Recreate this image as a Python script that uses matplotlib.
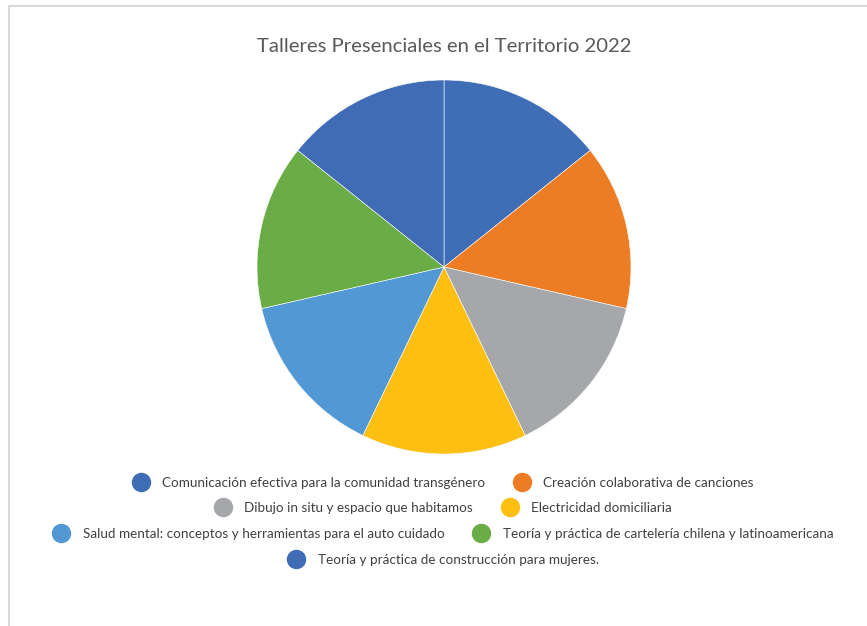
import matplotlib.pyplot as plt
from matplotlib.lines import Line2D

plt.rcParams['font.family'] = ['Lato', 'DejaVu Sans']

talleres = ["Comunicación efectiva para la comunidad transgénero",
            "Creación colaborativa de canciones",
            "Dibujo in situ y espacio que habitamos",
            "Electricidad domiciliaria",
            "Salud mental: conceptos y herramientas para el auto cuidado",
            "Teoría y práctica de cartelería chilena y latinoamericana",
            "Teoría y práctica de construcción para mujeres."]
valores = [1, 1, 1, 1, 1, 1, 1]
colores = ["#3F6DB6", "#ED7D24", "#A5A7AA", "#FDBF12", "#5298D4", "#6AAC45", "#3F6CB5"]
filas = [[0, 1], [2, 3], [4, 5], [6]]

W, H = 867, 626
fig = plt.figure(figsize=(W / 100, H / 100), dpi=100)

cx, cy, r = 444, 267, 187
ax = fig.add_axes([(cx - r) / W, (H - cy - r) / H, 2 * r / W, 2 * r / H])
ax.pie(valores, colors=colores, startangle=90, counterclock=False,
       wedgeprops=dict(edgecolor="white", linewidth=0.4))
ax.set_xlim(-1, 1)
ax.set_ylim(-1, 1)
ax.set_aspect("equal")

fig.text(cx / W, 1 - 47 / H, "Talleres Presenciales en el Territorio 2022",
         ha="center", va="center", fontsize=14.6, color="#595959")

ys = [483, 508, 534, 560]
for fila, y in zip(filas, ys):
    handles = [Line2D([], [], marker="o", linestyle="", markersize=13,
                      markerfacecolor=colores[i], markeredgecolor=colores[i]) for i in fila]
    labels = [talleres[i] for i in fila]
    leg = fig.legend(handles, labels, ncol=len(fila), loc="center",
                     bbox_to_anchor=(cx / W, 1 - y / H), frameon=False,
                     fontsize=9.7, handletextpad=1.1, columnspacing=2.2,
                     handlelength=1.0, borderpad=0)
    for t in leg.get_texts():
        t.set_color("#404040")

# borde del gráfico
fig.add_artist(Line2D([8.5 / W, 8.5 / W], [0, 1 - 5.5 / H], color="#D9D9D9", linewidth=1.5))
fig.add_artist(Line2D([8.5 / W, 1], [1 - 5.5 / H, 1 - 5.5 / H], color="#D9D9D9", linewidth=1.5))

fig.savefig("out.png", dpi=100, facecolor="white")
